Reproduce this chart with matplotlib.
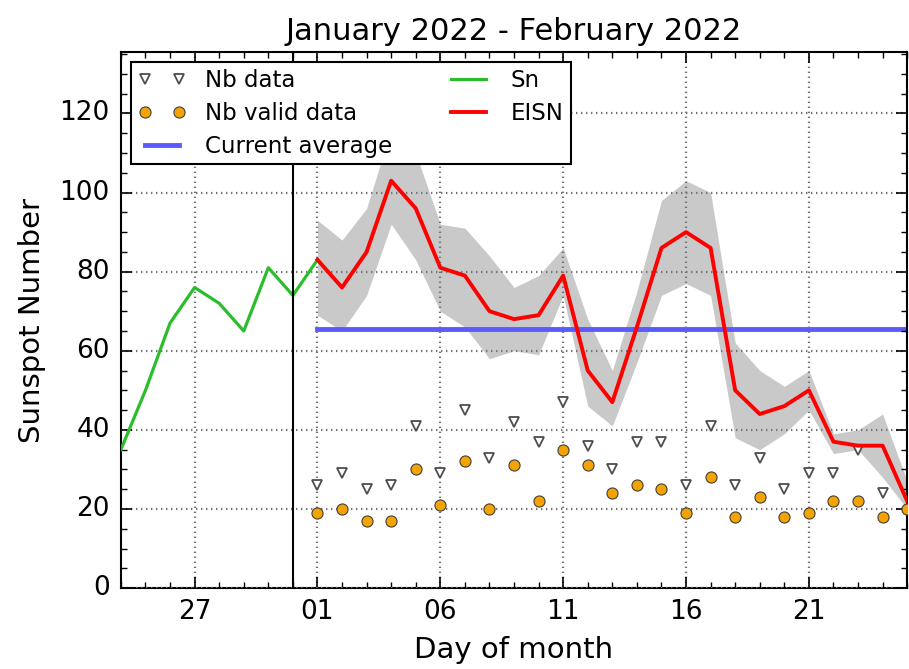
import numpy as np
import pandas as pd
import matplotlib
matplotlib.use('Agg')
import matplotlib.pyplot as plt
import matplotlib.dates as mdates

# Sn: daily sunspot number for the end of the previous month
sn_dates = pd.date_range('2022-01-24', '2022-02-01', freq='D')
sn_values = [35, 50, 67, 76, 72, 65, 81, 74, 83]

# EISN: estimated international sunspot number, current month
eisn_dates = pd.date_range('2022-02-01', '2022-02-25', freq='D')
eisn_values = [83, 76, 85, 103, 96, 81, 79, 70, 68, 69, 79, 55, 47, 66, 86,
               90, 86, 50, 44, 46, 50, 37, 36, 36, 22]
eisn_upper = [93, 88, 96, 116, 110, 92, 91, 84, 76, 79, 86, 68, 55, 75, 98,
              103, 100, 62, 55, 51, 55, 39, 40, 44, 27]
eisn_lower = [69, 65, 74, 92, 83, 70, 66, 58, 60, 59, 74, 46, 41, 57, 74,
              77, 74, 38, 35, 39, 45, 34, 35, 28, 20]

# station counts
nb_data = [26, 29, 25, 26, 41, 29, 45, 33, 42, 37, 47, 36, 30, 37, 37,
           26, 41, 26, 33, 25, 29, 29, 35, 24, np.nan]
nb_valid = [19, 20, 17, 17, 30, 21, 32, 20, 31, 22, 35, 31, 24, 26, 25,
            19, 28, 18, 23, 18, 19, 22, 22, 18, 20]

current_average = 65.5

plt.style.use('classic')
plt.rcParams['font.family'] = ['DejaVu Sans']

fig = plt.figure(figsize=(9.09, 6.69), dpi=100, facecolor='white')
ax = fig.add_axes([0.133, 0.121, 0.865, 0.801])
ax.set_facecolor('white')

ax.fill_between(eisn_dates, eisn_lower, eisn_upper, color='0.79',
                linewidth=0, zorder=1)
ax.plot(eisn_dates, nb_data, linestyle='none', marker='v', markersize=7.5,
        markerfacecolor='white', markeredgecolor='0.3', markeredgewidth=1.3,
        label='Nb data', zorder=3)
ax.plot(eisn_dates, nb_valid, linestyle='none', marker='o', markersize=8,
        markerfacecolor='#f5a300', markeredgecolor='0.25', markeredgewidth=0.8,
        label='Nb valid data', zorder=3)
ax.plot([eisn_dates[0], eisn_dates[-1]], [current_average, current_average],
        color='#5a5aff', linewidth=3.5, label='Current average', zorder=2)
ax.plot(sn_dates, sn_values, color='#2cbd2c', linewidth=2.3, label='Sn',
        zorder=4)
ax.plot(eisn_dates, eisn_values, color='red', linewidth=2.8, label='EISN',
        zorder=4)

ax.axvline(pd.Timestamp('2022-01-31'), color='black', linewidth=1.5, zorder=5)

ax.set_xlim(pd.Timestamp('2022-01-24'), pd.Timestamp('2022-02-25'))
ax.set_ylim(0, 135.5)

ax.xaxis.set_major_locator(mdates.DayLocator(bymonthday=[1, 6, 11, 16, 21, 27]))
ax.xaxis.set_minor_locator(mdates.DayLocator())
ax.xaxis.set_major_formatter(mdates.DateFormatter('%d'))
ax.yaxis.set_major_locator(plt.MultipleLocator(20))
ax.yaxis.set_minor_locator(plt.MultipleLocator(5))

ax.tick_params(which='major', direction='in', length=8, width=1.2,
               labelsize=19, top=True, right=True, pad=8)
ax.tick_params(which='minor', direction='in', length=4, width=1,
               top=True, right=True)
for s in ax.spines.values():
    s.set_linewidth(1.5)

ax.grid(True, which='major', color='0.45', linestyle=(0, (1, 2.6)),
        linewidth=1.6)

ax.set_title('January 2022 - February 2022', fontsize=22, pad=9)
ax.set_xlabel('Day of month', fontsize=21, labelpad=8)
ax.set_ylabel('Sunspot Number', fontsize=21, labelpad=10)

leg = ax.legend(loc='upper left', ncol=2, numpoints=2, fontsize=16.5,
                frameon=True, fancybox=False, edgecolor='black',
                borderaxespad=0.45, handlelength=2.1, handletextpad=0.8,
                columnspacing=2.3, labelspacing=0.42, borderpad=0.3)
leg.get_frame().set_linewidth(1.5)
leg.set_zorder(10)

fig.savefig('out.png', dpi=100, facecolor='white')
